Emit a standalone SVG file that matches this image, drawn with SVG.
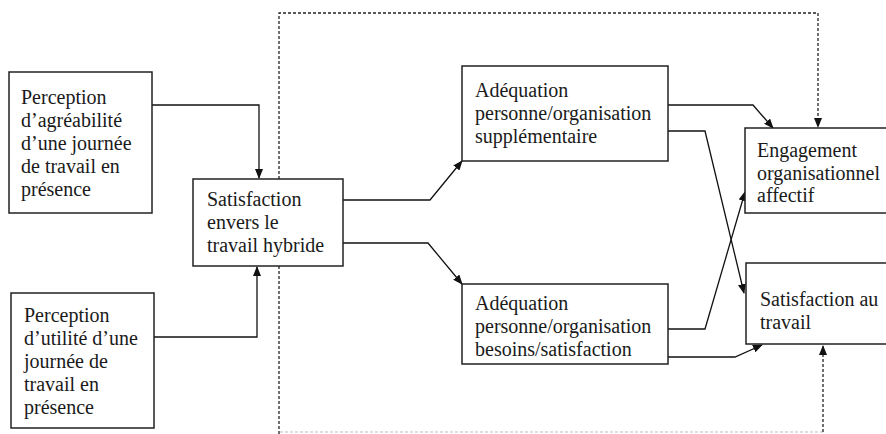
<svg xmlns="http://www.w3.org/2000/svg" width="886" height="434" viewBox="0 0 886 434">
<defs>
<marker id="ah" markerWidth="10" markerHeight="8" refX="9" refY="4" orient="auto" markerUnits="userSpaceOnUse">
<path d="M0,0 L10,4 L0,8 Z" fill="#111"/>
</marker>
</defs>
<style>
.box{fill:#fff;stroke:#222;stroke-width:1.5}
.t{font-family:'Liberation Serif','Times New Roman',serif;font-size:20px;fill:#1a1a1a}
.c{fill:none;stroke:#111;stroke-width:1.3}
.d{fill:none;stroke:#222;stroke-width:1.3;stroke-dasharray:3,2}
.df{fill:none;stroke:#bbb;stroke-width:1;stroke-dasharray:3,2}
</style>
<rect width="886" height="434" fill="#fff"/>
<g id="connectors">
<path class="d" d="M279,179 L279,13 L818,13 L818,127" marker-end="url(#ah)"/>
<path class="d" d="M279,266 L279,434"/>
<path class="df" d="M280,432 L823,432"/>
<path class="d" d="M823,432 L823,346" marker-end="url(#ah)"/>
<path class="c" d="M152,105 L259,105 L259,178" marker-end="url(#ah)"/>
<path class="c" d="M154,337 L257,337 L257,267" marker-end="url(#ah)"/>
<path class="c" d="M343,200 L430,200 L462,161" marker-end="url(#ah)"/>
<path class="c" d="M343,243 L428,243 L462,284" marker-end="url(#ah)"/>
<path class="c" d="M668,105 L753,105 L773,128" marker-end="url(#ah)"/>
<path class="c" d="M668,131 L705,131 L744,293" marker-end="url(#ah)"/>
<path class="c" d="M668,329 L705,329 L745,192" marker-end="url(#ah)"/>
<path class="c" d="M668,357 L735,357 L762,345" marker-end="url(#ah)"/>
</g>
<g id="n1">
<rect class="box" x="9" y="72" width="143" height="141"/>
<text class="t" x="21" y="104">Perception</text>
<text class="t" x="21" y="127">d’agréabilité</text>
<text class="t" x="21" y="150">d’une journée</text>
<text class="t" x="21" y="173">de travail en</text>
<text class="t" x="21" y="196">présence</text>
</g>
<g id="n2">
<rect class="box" x="193" y="179" width="150" height="87"/>
<text class="t" x="207" y="206">Satisfaction</text>
<text class="t" x="207" y="229">envers le</text>
<text class="t" x="207" y="252">travail hybride</text>
</g>
<g id="n3">
<rect class="box" x="11" y="293" width="143" height="135"/>
<text class="t" x="24" y="322">Perception</text>
<text class="t" x="24" y="345">d’utilité d’une</text>
<text class="t" x="24" y="368">journée de</text>
<text class="t" x="24" y="391">travail en</text>
<text class="t" x="24" y="414">présence</text>
</g>
<g id="n4">
<rect class="box" x="462" y="66" width="206" height="95"/>
<text class="t" x="475" y="97">Adéquation</text>
<text class="t" x="475" y="120">personne/organisation</text>
<text class="t" x="475" y="143">supplémentaire</text>
</g>
<g id="n5">
<rect class="box" x="745" y="128" width="145" height="85"/>
<text class="t" x="757" y="157">Engagement</text>
<text class="t" x="757" y="180">organisationnel</text>
<text class="t" x="757" y="202">affectif</text>
</g>
<g id="n6">
<rect class="box" x="462" y="284" width="206" height="80"/>
<text class="t" x="475" y="310">Adéquation</text>
<text class="t" x="475" y="333">personne/organisation</text>
<text class="t" x="475" y="356">besoins/satisfaction</text>
</g>
<g id="n7">
<rect class="box" x="746" y="263" width="144" height="81"/>
<text class="t" x="760" y="306">Satisfaction au</text>
<text class="t" x="760" y="329">travail</text>
</g>
</svg>
